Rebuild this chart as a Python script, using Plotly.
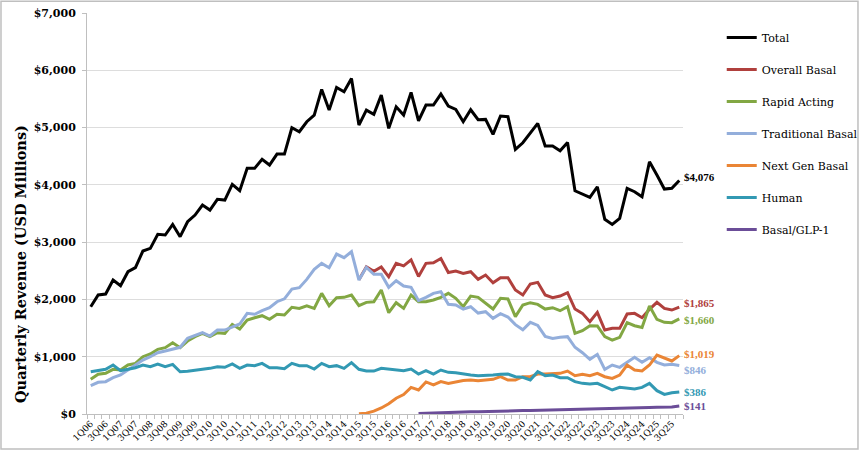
import plotly.graph_objects as go

quarters = [
    "1Q06", "2Q06", "3Q06", "4Q06", "1Q07", "2Q07", "3Q07", "4Q07",
    "1Q08", "2Q08", "3Q08", "4Q08", "1Q09", "2Q09", "3Q09", "4Q09",
    "1Q10", "2Q10", "3Q10", "4Q10", "1Q11", "2Q11", "3Q11", "4Q11",
    "1Q12", "2Q12", "3Q12", "4Q12", "1Q13", "2Q13", "3Q13", "4Q13",
    "1Q14", "2Q14", "3Q14", "4Q14", "1Q15", "2Q15", "3Q15", "4Q15",
    "1Q16", "2Q16", "3Q16", "4Q16", "1Q17", "2Q17", "3Q17", "4Q17",
    "1Q18", "2Q18", "3Q18", "4Q18", "1Q19", "2Q19", "3Q19", "4Q19",
    "1Q20", "2Q20", "3Q20", "4Q20", "1Q21", "2Q21", "3Q21", "4Q21",
    "1Q22", "2Q22", "3Q22", "4Q22", "1Q23", "2Q23", "3Q23", "4Q23",
    "1Q24", "2Q24", "3Q24", "4Q24", "1Q25", "2Q25", "3Q25", "4Q25",
]

total = [
    1873, 2077, 2094, 2339, 2240, 2484, 2554, 2845, 2892, 3136,
    3124, 3310, 3095, 3356, 3473, 3647, 3560, 3747, 3735, 4009,
    3897, 4288, 4288, 4445, 4346, 4538, 4538, 4997, 4927, 5102,
    5218, 5666, 5305, 5701, 5625, 5858, 5044, 5305, 5230, 5567,
    4986, 5363, 5218, 5614, 5119, 5393, 5393, 5585, 5375, 5317,
    5102, 5311, 5137, 5143, 4881, 5201, 5189, 4620, 4735, 4899,
    5073, 4677, 4677, 4595, 4741, 3897, 3839, 3782, 3967, 3398,
    3310, 3415, 3939, 3880, 3793, 4404, 4171, 3927, 3939, 4076,
]

overall_basal_start = 36
overall_basal = [
    2345, 2570, 2490, 2565, 2395, 2630, 2585, 2690, 2400, 2630,
    2640, 2715, 2470, 2495, 2455, 2484, 2350, 2426, 2292, 2380,
    2380, 2164, 2077, 2269, 2298, 2077, 2030, 2059, 2117, 1832,
    1757, 1611, 1774, 1466, 1495, 1495, 1745, 1757, 1681, 1827,
    1949, 1844, 1815, 1865,
]

rapid_acting = [
    605, 693, 710, 780, 768, 855, 884, 1000, 1047, 1129,
    1158, 1245, 1158, 1274, 1350, 1408, 1350, 1419, 1408, 1565,
    1483, 1640, 1681, 1716, 1652, 1740, 1728, 1862, 1844, 1890,
    1844, 2106, 1890, 2030, 2036, 2077, 1890, 1949, 1960, 2164,
    1768, 1943, 1844, 2077, 1960, 1960, 1990, 2036, 2106, 2019,
    1873, 2059, 2036, 1931, 1832, 2019, 2007, 1699, 1902, 1943,
    1914, 1832, 1856, 1803, 1873, 1408, 1454, 1541, 1536, 1350,
    1291, 1338, 1594, 1541, 1512, 1885, 1652, 1600, 1594, 1660,
]

traditional_basal = [
    494, 553, 564, 634, 681, 768, 855, 942, 1000, 1070,
    1099, 1134, 1164, 1321, 1367, 1419, 1361, 1466, 1466, 1524,
    1571, 1757, 1740, 1803, 1855, 1960, 2010, 2181, 2205, 2350,
    2525, 2630, 2554, 2792, 2729, 2833, 2339, 2560, 2438, 2438,
    2211, 2327, 2234, 2211, 1978, 2036, 2106, 2135, 1914, 1902,
    1832, 1873, 1762, 1786, 1670, 1750, 1693, 1560, 1470, 1600,
    1545, 1355, 1320, 1338, 1350, 1165, 1070, 954, 1041, 780,
    855, 815, 902, 989, 902, 983, 902, 855, 867, 846,
]

next_gen_start = 36
next_gen_basal = [
    5, 15, 50, 105, 180, 275, 340, 465, 420, 560,
    510, 565, 535, 565, 585, 595, 580, 593, 605, 651,
    593, 593, 651, 651, 698, 698, 710, 710, 750, 669,
    692, 669, 710, 651, 622, 680, 855, 768, 750, 855,
    1030, 983, 925, 1019,
]

human = [
    738, 756, 780, 855, 756, 780, 808, 855, 826, 873,
    826, 867, 738, 745, 762, 780, 797, 826, 815, 873,
    797, 855, 843, 884, 808, 808, 790, 884, 844, 844,
    785, 884, 826, 844, 797, 896, 780, 750, 750, 797,
    780, 768, 756, 785, 698, 756, 698, 768, 727, 721,
    698, 680, 669, 669, 680, 692, 698, 651, 640, 593,
    739, 669, 680, 634, 634, 564, 535, 524, 535, 477,
    419, 465, 448, 436, 465, 535, 407, 343, 372, 386,
]

glp1_start = 44
basal_glp1 = [
    8, 14, 18, 22, 28, 30, 35, 38, 40, 45,
    48, 52, 50, 55, 60, 62, 65, 68, 70, 72,
    70, 75, 78, 76, 80, 85, 88, 92, 100, 104,
    106, 112, 118, 120, 124, 141,
]

series = [
    ("Total", quarters, total, "#000000"),
    ("Overall Basal", quarters[overall_basal_start:], overall_basal, "#B0403D"),
    ("Rapid Acting", quarters, rapid_acting, "#82A743"),
    ("Traditional Basal", quarters, traditional_basal, "#93AEDB"),
    ("Next Gen Basal", quarters[next_gen_start:], next_gen_basal, "#EA8535"),
    ("Human", quarters, human, "#3299B3"),
    ("Basal/GLP-1", quarters[glp1_start:], basal_glp1, "#6B4D98"),
]

# vertical pixel nudges for the end labels so they don't collide
label_yshift = {
    "Total": 4, "Overall Basal": 4, "Rapid Acting": -1,
    "Traditional Basal": -4, "Next Gen Basal": 2, "Human": 0,
    "Basal/GLP-1": 0,
}

FONT = "DejaVu Serif"
LABEL_FONT = "Liberation Serif"

fig = go.Figure()
for i, (name, xs, ys, color) in enumerate(series):
    fig.add_trace(go.Scatter(
        x=xs, y=ys, name=name, mode="lines",
        line=dict(color=color, width=3),
        legendgroup=f"g{i}",
    ))

# end-of-line value labels
for name, xs, ys, color in series:
    fig.add_annotation(
        x=xs[-1], y=ys[-1], xref="x", yref="y",
        text=f"<b>${ys[-1]:,}</b>", showarrow=False,
        xanchor="left", yanchor="middle", xshift=3,
        yshift=label_yshift[name],
        font=dict(family=LABEL_FONT, size=11, color=color),
    )

ticktext = [q if k % 2 == 0 else "" for k, q in enumerate(quarters)]

fig.update_layout(
    width=860, height=454,
    margin=dict(l=87, r=177, t=13, b=40, autoexpand=False),
    paper_bgcolor="white", plot_bgcolor="white",
    font=dict(family=FONT, color="#000000"),
    showlegend=True,
    legend=dict(
        x=1.065, y=0.975, xanchor="left", yanchor="top",
        font=dict(family=FONT, size=11, color="#000000"),
        tracegroupgap=13, itemwidth=30,
        bgcolor="rgba(0,0,0,0)",
    ),
    xaxis=dict(
        type="category", categoryorder="array", categoryarray=quarters,
        range=[-0.5, len(quarters) - 0.5],
        tickmode="array", tickvals=quarters, ticktext=ticktext,
        tickangle=-45, tickfont=dict(family=FONT, size=9),
        tickson="boundaries", ticks="outside", ticklen=4,
        tickcolor="#BFBFBF", showline=True, linecolor="#BFBFBF",
        linewidth=1, showgrid=False, automargin=False, zeroline=False,
    ),
    yaxis=dict(
        range=[0, 7000], dtick=1000, tickformat="$,",
        tickfont=dict(family=FONT, size=11, color="#000000", weight="bold"),
        ticks="outside", ticklen=4, tickcolor="#BFBFBF",
        ticklabelstandoff=4,
        showline=True, linecolor="#BFBFBF", linewidth=1,
        gridcolor="#DDDDDD", gridwidth=1, zeroline=False,
        automargin=False,
    ),
)

# y-axis title as an annotation
fig.add_annotation(
    text="<b>Quarterly Revenue (USD Millions)</b>",
    xref="paper", yref="paper", x=-0.1124, y=0.374,
    xanchor="center", yanchor="middle",
    textangle=-90, showarrow=False,
    font=dict(family=FONT, size=14.5, color="#000000"),
)

# outer border of the chart area
fig.add_shape(
    type="rect", xref="paper", yref="paper",
    x0=-0.1443, x1=1.2936, y0=-0.0873, y1=1.029,
    line=dict(color="#BFBFBF", width=1.5), fillcolor="rgba(0,0,0,0)",
    layer="below",
)

fig.write_html(
    "out.html",
    config={"displayModeBar": False},
    post_script="document.body.style.margin='0';",
)
